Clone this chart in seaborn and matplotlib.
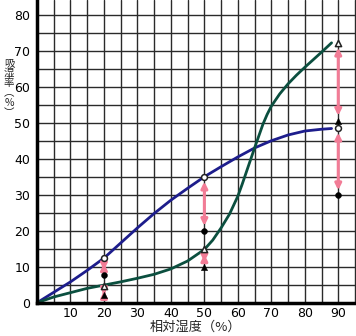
import matplotlib
matplotlib.use("Agg")
import matplotlib.pyplot as plt
from matplotlib.ticker import MultipleLocator
import seaborn as sns
import pandas as pd

# ---- data ----
blue_x = [0, 5, 10, 15, 20, 25, 30, 35, 40, 45, 50, 55, 60, 65, 70, 75, 80, 85, 88]
blue_y = [0, 2.9, 5.8, 9.0, 12.4, 16.6, 20.8, 24.8, 28.5, 31.8, 35.0, 37.8, 40.5,
          43.0, 45.0, 46.6, 47.7, 48.2, 48.4]
green_x = [0, 5, 10, 15, 20, 25, 30, 35, 40, 45, 50, 52.5, 55, 57.5, 60, 61.25, 62.5,
           63.75, 65, 66.25, 67.5, 68.75, 70, 72.5, 75, 77.5, 80, 85, 88]
green_y = [0, 1.6, 2.8, 4.0, 4.9, 5.8, 6.8, 7.9, 9.4, 11.6, 14.8, 17.4, 20.8, 24.6,
           29.6, 32.8, 36.2, 39.6, 43.0, 46.3, 49.6, 52.3, 54.6, 58.0, 60.8, 63.2,
           65.4, 69.6, 72.2]

rh_points = [20, 50, 90]
open_circle = [12.3, 35.0, 48.6]
filled_circle = [7.7, 20.0, 29.9]
open_tri = [4.6, 14.8, 72.2]
filled_tri = [2.2, 10.0, 50.6]

x_ticks = [10, 20, 30, 40, 50, 60, 70, 80, 90]
y_ticks = [0, 10, 20, 30, 40, 50, 60, 70, 80]
x_label = "相対湿度（%）"
y_label = "吸\n湿\n率\n︵\n%\n︶"

BLUE = "#1d1d8c"
GREEN = "#0b4f3f"
PINK = "#f27c96"

sns.set_theme(style="white")
plt.rcParams['font.family'] = ['DejaVu Sans', 'Noto Sans CJK JP']

fig = plt.figure(figsize=(3.56, 3.36), dpi=100)
ax = fig.add_axes([0.104, 0.099, 0.896, 0.901])

blue_df = pd.DataFrame({"x": blue_x, "y": blue_y})
green_df = pd.DataFrame({"x": green_x, "y": green_y})
sns.lineplot(data=blue_df, x="x", y="y", ax=ax, color=BLUE, lw=2.0, sort=False, zorder=3)
sns.lineplot(data=green_df, x="x", y="y", ax=ax, color=GREEN, lw=2.0, sort=False, zorder=3)

# arrows between paired values
for tops, bots in [(open_circle, filled_circle), (open_tri, filled_tri)]:
    for xv, top, bot in zip(rh_points, tops, bots):
        ax.annotate("", xy=(xv, bot), xytext=(xv, top),
                    arrowprops=dict(arrowstyle="<|-|>", color=PINK, lw=2.2,
                                    mutation_scale=9, shrinkA=3.5, shrinkB=3.5),
                    zorder=4)

sns.scatterplot(x=rh_points, y=open_circle, ax=ax, marker="o", s=18,
                facecolor="white", edgecolor="#222222", linewidth=1.1, zorder=5)
sns.scatterplot(x=rh_points, y=filled_circle, ax=ax, marker="o", s=18,
                color="black", edgecolor="black", zorder=5)
sns.scatterplot(x=rh_points, y=open_tri, ax=ax, marker="^", s=20,
                facecolor="white", edgecolor="#222222", linewidth=1.1, zorder=5)
sns.scatterplot(x=rh_points, y=filled_tri, ax=ax, marker="^", s=20,
                color="black", edgecolor="black", zorder=5)

ax.set_xlim(0, 95.3)
ax.set_ylim(0, 84.1)
ax.set_xticks(x_ticks)
ax.set_yticks(y_ticks)
ax.xaxis.set_minor_locator(MultipleLocator(5))
ax.yaxis.set_minor_locator(MultipleLocator(5))
ax.grid(True, which="both", color="#2a2a2a", lw=1.0)
ax.set_axisbelow(True)
ax.tick_params(axis="both", which="both", length=0, labelsize=9, colors="black")
ax.tick_params(axis="y", pad=5)
ax.tick_params(axis="x", pad=3)
for s in ["top", "right"]:
    ax.spines[s].set_visible(False)
for s in ["left", "bottom"]:
    ax.spines[s].set_color("black")
    ax.spines[s].set_linewidth(2.5)
    ax.spines[s].set_zorder(6)

ax.set_xlabel("")
ax.set_ylabel("")
fig.text(195 / 356, 1 - 327 / 336, x_label, ha="center", va="center", fontsize=9.5,
         family=["Noto Sans CJK JP"])
fig.text(9 / 356, 1 - 88 / 336, y_label, ha="center", va="center", fontsize=7.5,
         linespacing=1.0, family=["Noto Sans CJK JP", "DejaVu Sans"])

fig.savefig("out.png", dpi=100)
